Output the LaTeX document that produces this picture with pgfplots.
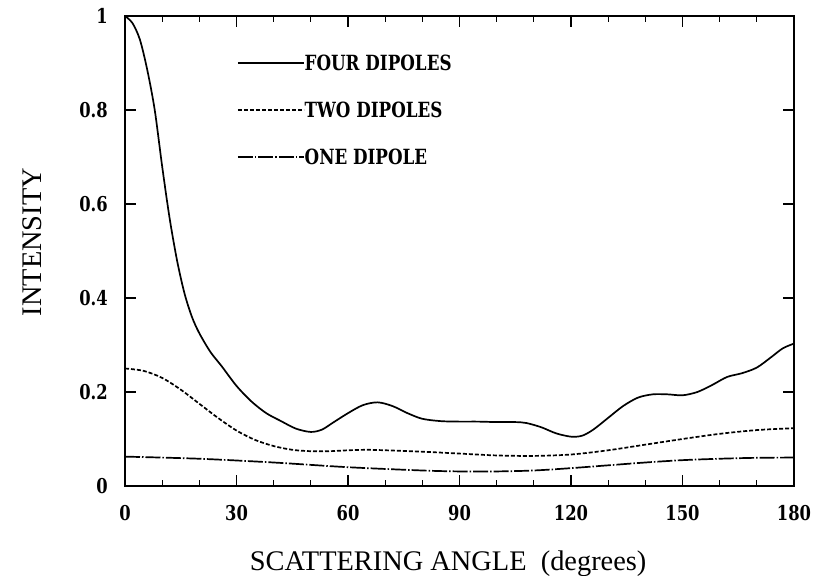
\documentclass[border=0pt]{standalone}
\usepackage{pgfplots}
\pgfplotsset{compat=1.18}
\usepackage{fontspec}
\setmainfont{Liberation Serif}
\newfontfamily\tickfont[FakeStretch=0.8]{DejaVu Serif}
\begin{document}
\begin{tikzpicture}
\begin{axis}[
  name=ax,
  scale only axis,
  width=669bp, height=470bp,
  xmin=0, xmax=180, ymin=0, ymax=1,
  xtick={0,30,...,180},
  minor xtick={10,20,40,50,70,80,100,110,130,140,160,170},
  ytick={0,0.2,0.4,0.6,0.8,1},
  yticklabels={0,0.2,0.4,0.6,0.8,1},
  xticklabels={0,30,60,90,120,150,180},
  tick align=inside,
  major tick length=11bp,
  minor tick length=6bp,
  every tick/.style={black, line width=1.3bp},
  axis line style={line width=1.5bp},
  tick label style={font=\tickfont\bfseries\fontsize{20.5}{23}\selectfont, inner sep=0pt},
  xticklabel style={anchor=north, yshift=-19bp},
  yticklabel style={anchor=east, xshift=-17bp},
  xlabel={SCATTERING ANGLE\ \ (degrees)},
  ylabel={INTENSITY},
  label style={font=\fontsize{28.5}{32}\selectfont},
  xlabel style={at={(axis description cs:0.483,0)}, anchor=base, yshift=-84bp},
  ylabel style={at={(axis description cs:0,0.519)}, anchor=base, xshift=0bp, yshift=83bp},
  legend style={at={(0.1674,0.916)}, anchor=north west, draw=none, fill=none,
    inner sep=0pt, outer sep=0pt,
    nodes={inner sep=0pt, text height=15bp, text depth=0bp},
    font=\tickfont\bfseries\fontsize{21}{24}\selectfont, row sep=32bp,
    /tikz/every even column/.append style={column sep=8bp}},
  legend cell align=left,
  legend image code/.code={\draw[#1] (0bp,0bp) -- (66bp,0bp);},
]
\addplot[black, line width=1.7bp, smooth, tension=0.5] coordinates {
(0,1.0)(2,0.985)(4,0.95)(6,0.885)(8,0.8)(10,0.68)(12,0.57)(14,0.48)(16,0.41)(18,0.36)
(20,0.325)(23,0.285)(26,0.255)(30,0.213)(34,0.18)(38,0.155)(42,0.138)(46,0.122)(50,0.115)
(53,0.12)(56,0.135)(60,0.155)(64,0.172)(68,0.178)(72,0.17)(76,0.155)(80,0.143)(85,0.138)
(90,0.137)(95,0.137)(100,0.136)(105,0.136)(108,0.134)(112,0.125)(116,0.112)(120,0.105)
(123,0.107)(126,0.12)(130,0.145)(134,0.17)(138,0.188)(142,0.195)(146,0.195)(150,0.193)
(154,0.2)(158,0.215)(162,0.232)(166,0.24)(170,0.252)(174,0.275)(177,0.293)(180,0.303)};
\addlegendentry{FOUR DIPOLES}
\addplot[black, line width=1.7bp, smooth, dash pattern=on 4bp off 2bp] coordinates {
(0,0.25)(5,0.245)(10,0.23)(15,0.205)(20,0.175)(25,0.145)(30,0.118)(35,0.098)(40,0.085)
(45,0.077)(50,0.074)(55,0.074)(60,0.076)(65,0.077)(70,0.076)(80,0.073)(90,0.069)
(100,0.065)(110,0.064)(120,0.067)(130,0.076)(140,0.088)(150,0.1)(160,0.111)(170,0.119)(180,0.123)};
\addlegendentry{TWO DIPOLES}
\addplot[black, line width=1.7bp, smooth, dash pattern=on 15bp off 2bp on 1.5bp off 2bp] coordinates {
(0,0.0625)(20,0.058)(40,0.05)(60,0.04)(80,0.033)(90,0.031)(100,0.031)(110,0.033)
(120,0.038)(130,0.044)(140,0.05)(150,0.055)(160,0.058)(170,0.06)(180,0.0605)};
\addlegendentry{ONE DIPOLE}
\end{axis}
\pgfresetboundingbox
\path[use as bounding box] ([xshift=-125bp,yshift=-90bp]ax.south west) rectangle ([xshift=27bp,yshift=16bp]ax.north east);
\end{tikzpicture}
\end{document}
